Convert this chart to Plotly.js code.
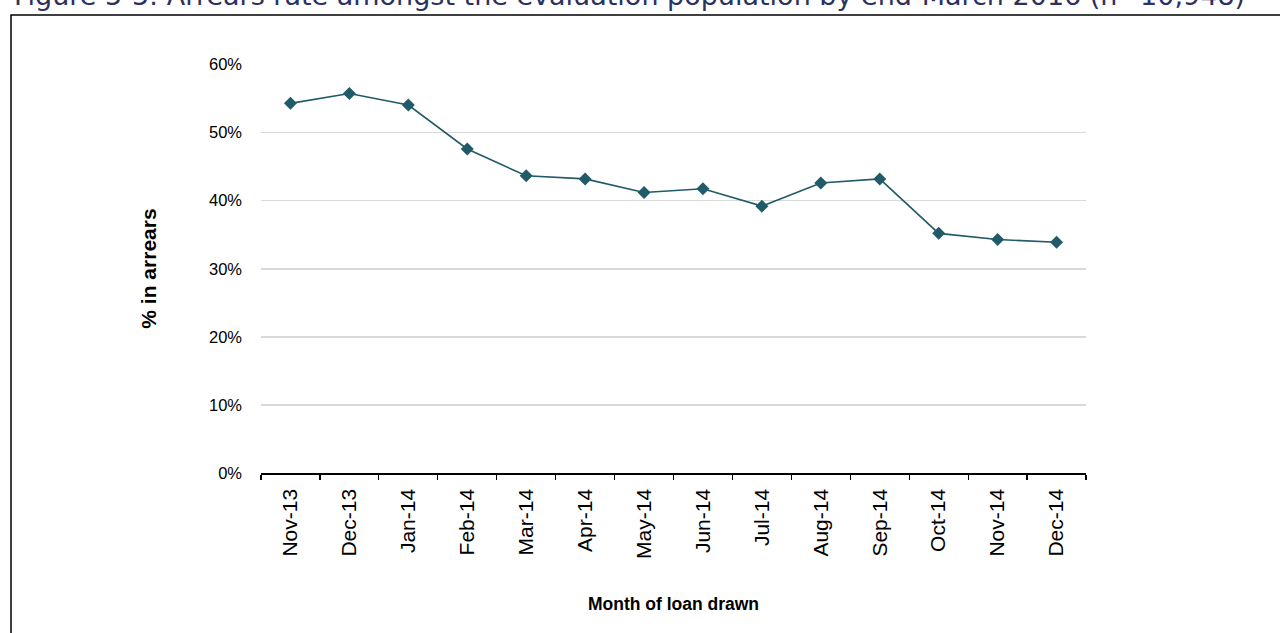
<!DOCTYPE html>
<html>
<head>
<meta charset="utf-8">
<script src="https://cdn.plot.ly/plotly-3.0.1.min.js"></script>
<style>html,body{margin:0;padding:0;background:#fff;}#chart{width:1280px;height:633px;}</style>
</head>
<body>
<div id="chart"></div>
<script>
const months = ["Nov-13","Dec-13","Jan-14","Feb-14","Mar-14","Apr-14","May-14","Jun-14","Jul-14","Aug-14","Sep-14","Oct-14","Nov-14","Dec-14"];
const arrearsRate = [0.543,0.5575,0.5405,0.476,0.4366,0.432,0.412,0.4175,0.392,0.426,0.432,0.352,0.343,0.339];
const yTicks = [0,0.1,0.2,0.3,0.4,0.5,0.6];
const yTickLabels = ["0%","10%","20%","30%","40%","50%","60%"];
const chartTitle = "Figure 5-5: Arrears rate amongst the evaluation population by end-March 2016 (n=10,948)";
const xTitle = "Month of loan drawn";
const yTitle = "% in arrears";

const trace = {
  x: months, y: arrearsRate, type: 'scatter', mode: 'lines+markers',
  line: {color: '#215a68', width: 1.6},
  marker: {symbol: 'diamond', size: 10, color: '#215a68'},
  hoverinfo: 'x+y'
};

const layout = {
  width: 1280, height: 633,
  margin: {l: 261, r: 194, t: 64, b: 159.5},
  paper_bgcolor: '#fff', plot_bgcolor: '#fff',
  showlegend: false,
  font: {family: 'Liberation Sans, Arial, sans-serif', color: '#000'},
  xaxis: {
    type: 'category', tickson: 'boundaries', ticks: 'outside', ticklen: 5, tickwidth: 1.2, tickcolor: '#000',
    showline: true, linecolor: '#000', linewidth: 1.5, showgrid: false, zeroline: false,
    tickangle: -90, tickfont: {size: 21, family: 'Liberation Sans, Arial, sans-serif'},
    ticklabelstandoff: 6,
    range: [-0.5, months.length - 0.5],
    title: {text: xTitle, font: {size: 17.5, family: 'Liberation Sans, Arial, sans-serif', weight: 'bold'}, standoff: 40}
  },
  yaxis: {
    range: [0, 0.6008], tickvals: yTicks, ticktext: yTickLabels, ticks: '', showline: false,
    showgrid: true, gridcolor: '#d9d9d9', gridwidth: 1.5, zeroline: false,
    tickfont: {size: 16.5}, ticklabelstandoff: 18,
    title: {text: yTitle, font: {size: 21, weight: 'bold'}, standoff: 46}
  },
  annotations: [{
    text: chartTitle, xref: 'paper', yref: 'paper', x: (12 - 261) / 825, y: 1 + 69 / 409.5,
    xanchor: 'left', yanchor: 'middle', showarrow: false,
    font: {family: 'DejaVu Sans, Verdana, sans-serif', size: 27, color: '#2b3160'}
  }],
  shapes: [{
    type: 'rect', xref: 'paper', yref: 'paper',
    x0: (11 - 261) / 825, x1: (1290 - 261) / 825,
    y0: 1 - (640 - 64) / 409.5, y1: 1 + (64 - 15) / 409.5,
    line: {color: '#000', width: 1.5}, fillcolor: 'rgba(0,0,0,0)', layer: 'below'
  }]
};

Plotly.newPlot('chart', [trace], layout, {staticPlot: true, displayModeBar: false});
</script>
</body>
</html>
